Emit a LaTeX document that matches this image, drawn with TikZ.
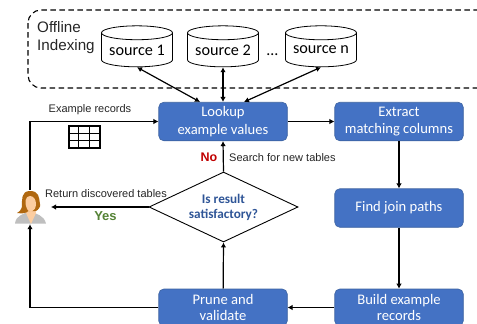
\documentclass[tikz,border=0pt]{standalone}
\usepackage{fontspec}
\setmainfont{Carlito}
\newfontfamily\arialf{Liberation Sans}
\usetikzlibrary{shapes.geometric,arrows.meta}
\definecolor{boxblue}{RGB}{68,114,196}
\definecolor{boxedge}{RGB}{60,98,160}
\definecolor{darkblue}{RGB}{47,85,151}
\definecolor{yesgreen}{RGB}{84,130,53}
\definecolor{nored}{RGB}{192,0,0}
\definecolor{hair}{RGB}{176,104,16}
\definecolor{skin}{RGB}{252,205,160}
\tikzset{
 stepbox/.style={draw=boxedge,line width=.6pt,fill=boxblue,rounded corners=5pt,text=white,align=center,font=\fontsize{14.6}{17.5}\selectfont,minimum width=128.5pt,minimum height=38.5pt,inner sep=0pt},
 lowbox/.style={stepbox,font=\fontsize{14.6}{16.5}\selectfont,minimum height=37pt},
 srcdb/.style={cylinder,shape border rotate=90,aspect=.25,draw=black,line width=.8pt,fill=white,minimum width=71pt,minimum height=41pt,inner sep=0pt,font=\fontsize{16.2}{18}\selectfont},
 flow/.style={draw=black,line width=1.2pt,-{Latex[length=5pt,width=5.5pt]}},
 both/.style={draw=black,line width=1.2pt,{Latex[length=5pt,width=5.5pt]}-{Latex[length=5pt,width=5.5pt]}},
 lbl/.style={inner sep=0pt,font=\arialf\fontsize{11}{12}\selectfont,text=black!85},
}
\begin{document}
\begin{tikzpicture}[x=1pt,y=-1pt]
\useasboundingbox (0,0) rectangle (477,324);
\clip (0,0) rectangle (477,324);
\draw[black,line width=1.1pt,dash pattern=on 5.5pt off 3.5pt,rounded corners=13pt] (28,10) rectangle (492,88);
\node[inner sep=0pt,anchor=west,align=left,font=\arialf\fontsize{15.2}{18}\selectfont,text=black!85] (offline) at (37,37.5) {Offline\\Indexing};
\node[srcdb] (s1) at (137,50) {\raisebox{-2pt}{source 1}};
\node[srcdb] (s2) at (223,50) {\raisebox{-2pt}{source 2}};
\node[srcdb] (sn) at (321,50) {\raisebox{-2pt}{source n}};
\node[inner sep=0pt,font=\fontsize{16}{18}\selectfont] (dots) at (272.5,55) {\dots};
\node[stepbox] (lookup) at (223,121.5) {Lookup\\example values};
\node[stepbox] (extract) at (399,121.5) {Extract\\matching columns};
\node[stepbox] (find) at (399,208) {Find join paths};
\node[lowbox] (build) at (399,307.5) {Build example\\records};
\node[lowbox] (prune) at (223,307.5) {Prune and\\validate};
\node[diamond,draw=black,line width=.9pt,fill=white,minimum width=149pt,minimum height=70pt,inner sep=0pt,aspect=2.13,align=center,text=darkblue,font=\bfseries\fontsize{13.2}{15}\selectfont] (check) at (223.5,207) {Is result\\satisfactory?};
% user icon
\node[minimum width=32pt,minimum height=34pt,inner sep=0pt] (user) at (30,207) {};
\fill[black!25] (15,223.5) .. controls (16,215) and (24,214) .. (30,211) .. controls (36,214) and (44,215) .. (46,223.5) -- cycle;
\fill[skin] (26,208) -- (35,208) -- (36,213) -- (31,224) -- (26,213) -- cycle;
\fill[hair] (30,191) .. controls (21,191) and (22,200) .. (22,206) .. controls (22,209) and (19,212) .. (17,213) .. controls (23,214) and (27,213) .. (28,211) -- (36,211) .. controls (38,210) and (41,207) .. (40,204) .. controls (39,197) and (39,191) .. (30,191) -- cycle;
\fill[skin] (30,196) .. controls (25,196) and (25,203) .. (26,206) .. controls (27,210) and (29,212) .. (31,212) .. controls (34,211) and (36,208) .. (36,204) .. controls (36,200) and (34,196) .. (30,196) -- cycle;
% table icon
\node[draw=black,line width=2pt,minimum width=31pt,minimum height=22pt,inner sep=0pt,fill=white] (tbl) at (84,137) {};
\foreach \yy in {133.3,140.7} \draw[black,line width=1.3pt] (69,\yy) -- (100,\yy);
\foreach \xx in {78.5,89.5} \draw[black,line width=1.3pt] (\xx,126) -- (\xx,148);
% connectors
\path[both] (s1.south) -- (lookup.north -| 200,0);
\path[both] (s2.south) -- (lookup.north);
\path[both] (sn.south) -- (lookup.north -| 244,0);
\path[flow] (lookup) -- (extract);
\path[flow] (extract) -- (find);
\path[flow] (find) -- (build);
\path[flow] (build) -- (prune);
\path[flow] (prune) -- (check.south);
\path[flow] (check.north) -- (lookup.south);
\path[flow] (check.west) -- (51,207);
\path[flow] (user.north) |- (lookup.west);
\path[flow] (prune.west) -| (user.south);
% labels
\node[lbl] (lexr) at (90,110) {Example records};
\node[lbl,anchor=west] (lsearch) at (229,158) {Search for new tables};
\node[lbl] (lret) at (106,193.5) {Return discovered tables};
\node[inner sep=0pt,text=nored,font=\bfseries\arialf\fontsize{12.5}{14}\selectfont] (lno) at (209,157.5) {No};
\node[inner sep=0pt,text=yesgreen,font=\bfseries\arialf\fontsize{13}{14}\selectfont] (lyes) at (105.5,216.5) {Yes};
\end{tikzpicture}
\end{document}
